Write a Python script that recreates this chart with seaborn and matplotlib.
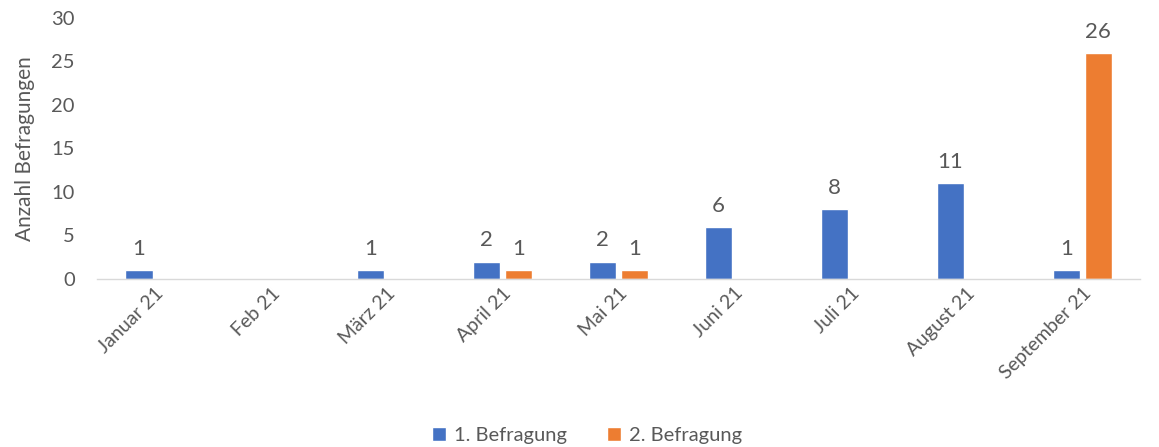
import pandas as pd
import matplotlib
matplotlib.use("Agg")
import matplotlib.pyplot as plt
import seaborn as sns

# ── Daten ───────────────────────────────────────────────────────────────────
monate = ["Januar 21", "Feb 21", "März 21", "April 21", "Mai 21",
          "Juni 21", "Juli 21", "August 21", "September 21"]
befragung_1 = [1, 0, 1, 2, 2, 6, 8, 11, 1]
befragung_2 = [0, 0, 0, 1, 1, 0, 0, 0, 26]
serien = ["1. Befragung", "2. Befragung"]

PALETTE = {"1. Befragung": "#4472C4", "2. Befragung": "#ED7D31"}
TEXT = "#595959"

df = pd.DataFrame({
    "Monat": monate * 2,
    "Serie": [serien[0]] * len(monate) + [serien[1]] * len(monate),
    "Anzahl": befragung_1 + befragung_2,
})

sns.set_theme(style="white")
plt.rcParams["font.family"] = ["Lato", "DejaVu Sans"]

fig = plt.figure(figsize=(11.59, 4.47), dpi=100)
ax = fig.add_axes([0.0837, 0.376, 0.9, 0.584])

sns.barplot(data=df, x="Monat", y="Anzahl", hue="Serie", palette=PALETTE,
            order=monate, hue_order=serien, width=0.55, gap=0.15,
            saturation=1, ax=ax, legend=True)

for cont in ax.containers:
    labels = [f"{int(v)}" if v > 0 else "" for v in cont.datavalues]
    ax.bar_label(cont, labels=labels, padding=8, fontsize=16, color=TEXT)

ax.set_ylim(0, 30)
ax.set_yticks(range(0, 31, 5))
ax.set_xlim(-0.5, len(monate) - 0.5)
ax.set_xlabel("")
ax.set_ylabel("Anzahl Befragungen", fontsize=15, color=TEXT, labelpad=12)
ax.tick_params(axis="y", labelsize=14.5, colors=TEXT, length=0, pad=16)
ax.tick_params(axis="x", labelsize=14, colors=TEXT, length=0, pad=4)
plt.setp(ax.get_xticklabels(), rotation=45, ha="right", rotation_mode="anchor")

for side in ["top", "right", "left"]:
    ax.spines[side].set_visible(False)
ax.spines["bottom"].set_color("#D9D9D9")
ax.spines["bottom"].set_linewidth(1)

ax.legend(loc="center", bbox_to_anchor=(0.47, -0.6), ncol=2, frameon=False,
          fontsize=14.5, handlelength=0.7, handleheight=0.7, handletextpad=0.4,
          columnspacing=2.0, labelcolor=TEXT)

fig.savefig("out.png", dpi=100)
